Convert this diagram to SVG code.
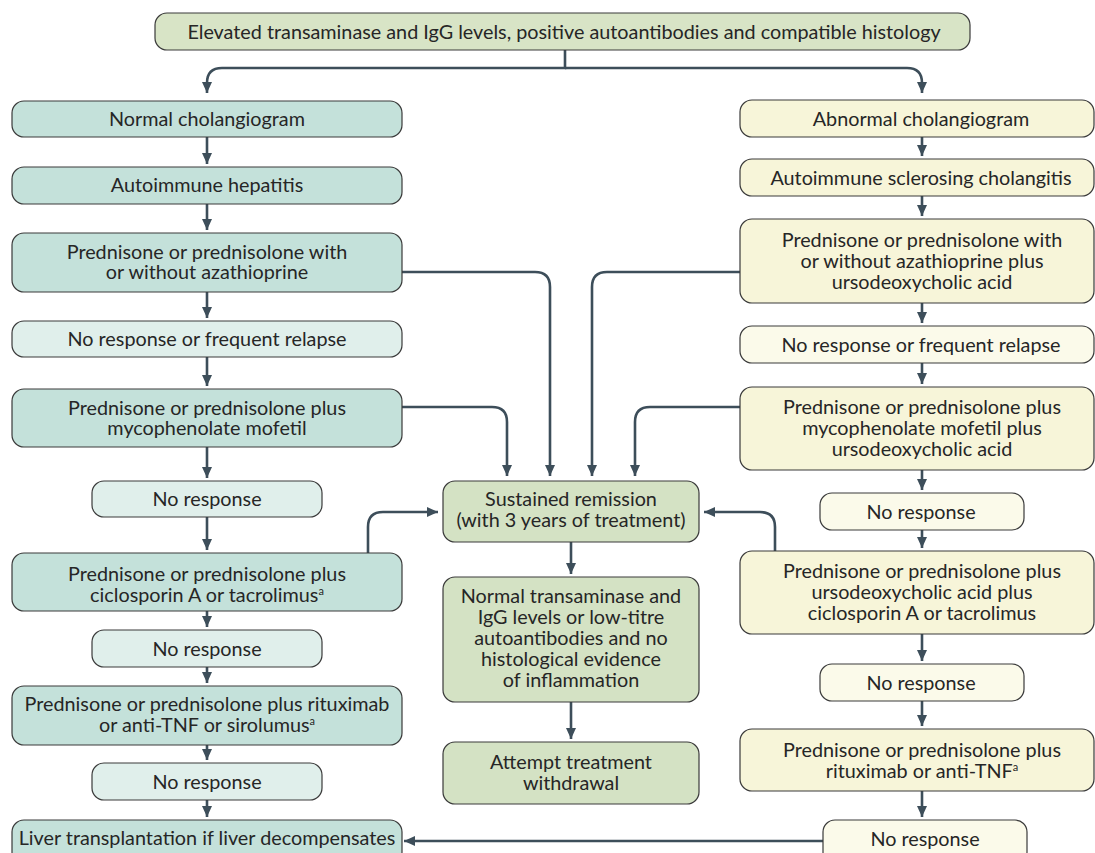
<svg xmlns="http://www.w3.org/2000/svg" width="1095" height="853" viewBox="0 0 1095 853">
<style>
text{font-family:Lato,"Open Sans","Liberation Sans",sans-serif;font-size:19.8px;fill:#262626;text-anchor:middle}
rect{stroke:#3a3a3a;stroke-width:1.2}
.top{fill:#d8e4c6}
.lt{fill:#c4e1da}
.ll{fill:#e0efeb}
.rt{fill:#f7f5d9}
.rl{fill:#fbfaea}
.ct{fill:#d4e2c4}
.c path{fill:none;stroke:#3d4e5a;stroke-width:2.6;marker-end:url(#ah)}
.sup{font-size:11px}
</style>
<defs>
<marker id="ah" markerUnits="userSpaceOnUse" markerWidth="12" markerHeight="12" viewBox="0 0 12 12" refX="11" refY="6" orient="auto">
<path d="M0,1 L11,6 L0,11 z" fill="#3d4e5a"/>
</marker>
</defs>
<g class="c" id="connectors">
<path d="M565,50 V68 H222 Q207,68 207,83 V93"/>
<path d="M565,68 H907 Q922,68 922,83 V93"/>
<path d="M207,137 V164"/>
<path d="M207,204 V230"/>
<path d="M207,292 V318"/>
<path d="M207,357 V386"/>
<path d="M207,447 V478"/>
<path d="M207,517 V550"/>
<path d="M207,611 V627"/>
<path d="M207,667 V683"/>
<path d="M207,745 V760"/>
<path d="M207,800 V817"/>
<path d="M922,137 V156"/>
<path d="M922,196 V216"/>
<path d="M922,303 V323"/>
<path d="M922,363 V384"/>
<path d="M922,470 V490"/>
<path d="M922,530 V548"/>
<path d="M922,634 V661"/>
<path d="M922,701 V726"/>
<path d="M922,791 V817"/>
<path d="M402,272 H535 Q550,272 550,287 V476"/>
<path d="M740,272 H607 Q592,272 592,287 V476"/>
<path d="M402,407 H492 Q507,407 507,422 V476"/>
<path d="M740,407 H650 Q635,407 635,422 V476"/>
<path d="M368,553 V527 Q368,512 383,512 H438"/>
<path d="M775,551 V527 Q775,512 760,512 H704"/>
<path d="M571,542 V574"/>
<path d="M571,702 V739"/>
<path d="M823,841 H404"/>
</g>
<g id="n-top"><rect class="top" x="155" y="13" width="815" height="37" rx="12"/><text x="564" y="39">Elevated transaminase and IgG levels, positive autoantibodies and compatible histology</text></g>
<g id="n-l1"><rect class="lt" x="12" y="101" width="390" height="36" rx="12"/><text x="207" y="126">Normal cholangiogram</text></g>
<g id="n-l2"><rect class="lt" x="12" y="167" width="390" height="37" rx="12"/><text x="207" y="192">Autoimmune hepatitis</text></g>
<g id="n-l3"><rect class="lt" x="12" y="233" width="390" height="59" rx="12"/><text x="207" y="259">Prednisone or prednisolone with<tspan x="207" dy="20">or without azathioprine</tspan></text></g>
<g id="n-l4"><rect class="ll" x="12" y="321" width="390" height="36" rx="12"/><text x="207" y="346">No response or frequent relapse</text></g>
<g id="n-l5"><rect class="lt" x="12" y="389" width="390" height="58" rx="12"/><text x="207" y="415">Prednisone or prednisolone plus<tspan x="207" dy="20">mycophenolate mofetil</tspan></text></g>
<g id="n-l6"><rect class="ll" x="92" y="481" width="230" height="36" rx="12"/><text x="207" y="506">No response</text></g>
<g id="n-l7"><rect class="lt" x="12" y="553" width="390" height="58" rx="12"/><text x="207" y="581">Prednisone or prednisolone plus<tspan x="207" dy="21">ciclosporin A or tacrolimus<tspan class="sup" dy="-7">a</tspan></tspan></text></g>
<g id="n-l8"><rect class="ll" x="92" y="630" width="230" height="37" rx="12"/><text x="207" y="656">No response</text></g>
<g id="n-l9"><rect class="lt" x="12" y="686" width="390" height="59" rx="12"/><text x="207" y="711">Prednisone or prednisolone plus rituximab<tspan x="207" dy="21">or anti-TNF or sirolumus<tspan class="sup" dy="-7">a</tspan></tspan></text></g>
<g id="n-l10"><rect class="ll" x="92" y="763" width="230" height="37" rx="12"/><text x="207" y="789">No response</text></g>
<g id="n-l11"><rect class="lt" x="12" y="820" width="390" height="44" rx="12"/><text x="207" y="845">Liver transplantation if liver decompensates</text></g>
<g id="n-r1"><rect class="rt" x="740" y="100" width="354" height="37" rx="12"/><text x="921" y="126">Abnormal cholangiogram</text></g>
<g id="n-r2"><rect class="rt" x="740" y="159" width="354" height="37" rx="12"/><text x="921" y="185">Autoimmune sclerosing cholangitis</text></g>
<g id="n-r3"><rect class="rt" x="740" y="219" width="354" height="84" rx="12"/><text x="922" y="247">Prednisone or prednisolone with<tspan x="922" dy="21">or without azathioprine plus</tspan><tspan x="922" dy="21">ursodeoxycholic acid</tspan></text></g>
<g id="n-r4"><rect class="rl" x="740" y="326" width="354" height="37" rx="12"/><text x="921" y="352">No response or frequent relapse</text></g>
<g id="n-r5"><rect class="rt" x="740" y="387" width="354" height="83" rx="12"/><text x="922" y="414">Prednisone or prednisolone plus<tspan x="922" dy="21">mycophenolate mofetil plus</tspan><tspan x="922" dy="21">ursodeoxycholic acid</tspan></text></g>
<g id="n-r6"><rect class="rl" x="820" y="493" width="204" height="37" rx="12"/><text x="921" y="519">No response</text></g>
<g id="n-r7"><rect class="rt" x="740" y="551" width="354" height="83" rx="12"/><text x="922" y="578">Prednisone or prednisolone plus<tspan x="922" dy="21">ursodeoxycholic acid plus</tspan><tspan x="922" dy="21">ciclosporin A or tacrolimus</tspan></text></g>
<g id="n-r8"><rect class="rl" x="820" y="664" width="204" height="37" rx="12"/><text x="921" y="690">No response</text></g>
<g id="n-r9"><rect class="rt" x="740" y="729" width="354" height="62" rx="12"/><text x="922" y="757">Prednisone or prednisolone plus<tspan x="922" dy="21">rituximab or anti-TNF<tspan class="sup" dy="-7">a</tspan></tspan></text></g>
<g id="n-r10"><rect class="rl" x="823" y="820" width="204" height="44" rx="12"/><text x="925" y="846">No response</text></g>
<g id="n-c1"><rect class="ct" x="443" y="481" width="256" height="61" rx="12"/><text x="571" y="506">Sustained remission<tspan x="571" dy="21">(with 3 years of treatment)</tspan></text></g>
<g id="n-c2"><rect class="ct" x="443" y="577" width="256" height="125" rx="12"/><text x="571" y="603">Normal transaminase and<tspan x="571" dy="21">IgG levels or low-titre</tspan><tspan x="571" dy="21">autoantibodies and no</tspan><tspan x="571" dy="21">histological evidence</tspan><tspan x="571" dy="21">of inflammation</tspan></text></g>
<g id="n-c3"><rect class="ct" x="443" y="742" width="256" height="62" rx="12"/><text x="571" y="769">Attempt treatment<tspan x="571" dy="21">withdrawal</tspan></text></g>
</svg>
